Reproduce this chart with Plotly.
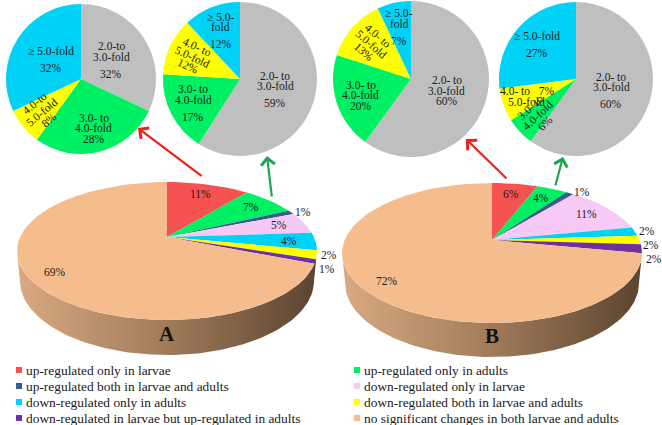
import math
import plotly.graph_objects as go

W, H = 662, 425

# ---------------- data ----------------
categories = [
    "up-regulated only in larvae",
    "up-regulated only in adults",
    "up-regulated both in larvae and adults",
    "down-regulated only in larvae",
    "down-regulated only in adults",
    "down-regulated both in larvae and adults",
    "down-regulated in larvae but up-regulated in adults",
    "no significant changes in both larvae and adults",
]
values_A = [11, 7, 1, 5, 4, 2, 1, 69]
values_B = [6, 4, 1, 11, 2, 2, 2, 72]

fold_classes = ["2.0- to 3.0-fold", "3.0- to 4.0-fold", "4.0- to 5.0-fold", "≥ 5.0-fold"]
fold_A_larvae = [32, 28, 8, 32]
fold_A_adults = [59, 17, 12, 12]
fold_B_larvae = [60, 20, 13, 7]
fold_B_adults = [60, 6, 7, 27]

text_A_larvae = ["2.0-to<br>3.0-fold", "3.0- to<br>4.0-fold", "4.0-to<br>5.0-fold", "≥ 5.0-fold"]
text_A_adults = ["2.0- to<br>3.0-fold", "3.0- to<br>4.0-fold", "4.0- to<br>5.0-fold", "≥ 5.0-<br>fold"]
text_B_larvae = ["2.0- to<br>3.0-fold", "3.0- to<br>4.0-fold", "4.0- to<br>5.0-fold", "≥ 5.0-<br>fold"]
text_B_adults = ["2.0- to<br>3.0-fold", "3.0- to<br>4.0-fold", "4.0- to<br>5.0-fold", "≥ 5.0-fold"]

# ---------------- styles ----------------
cat_colors = ["#f65252", "#00f064", "#355d8d", "#f7c9f7", "#00d2f7", "#ffff00", "#7030a0", "#f5bd8e"]
fold_colors = ["#bfbfbf", "#00f064", "#ffff00", "#00d2f7"]
# per-slice label styling: (radial orientation, inline percentage, gap before percentage)
style_A_larvae = [(False, False, True), (False, False, False), (True, False, False), (False, False, True)]
style_A_adults = [(False, False, True), (False, False, True), (True, False, False), (False, False, True)]
style_B_larvae = [(False, False, False), (False, False, False), (True, False, False), (False, False, True)]
style_B_adults = [(False, False, True), (True, False, False), (False, True, False), (False, False, True)]

FONT = "Liberation Serif"
TXT = "#1a1a1a"
PIE_FS = 11.5
LINE = 10.8
GAP = 6

fig = go.Figure()
annotations = []


def ray_t(theta, a, b, off):
    dy = -b * math.cos(theta)
    B = -2 * off * dy / (b * b)
    C = off * off / (b * b) - 1
    return (-B + math.sqrt(B * B - 4 * C)) / 2


def main_pie(values, cx, cy, a, b, off, cy2, a2, b2, name):
    n = 120
    xs, ys = [], []
    for i in range(n + 1):
        th = math.pi / 2 + math.pi * i / n
        xs.append(cx + a * math.sin(th)); ys.append(cy - b * math.cos(th))
    for i in range(n + 1):
        th = 3 * math.pi / 2 - math.pi * i / n
        xs.append(cx + a2 * math.sin(th)); ys.append(cy2 - b2 * math.cos(th))
    fig.add_trace(go.Scatter(
        x=xs, y=ys, mode="lines", fill="toself", line=dict(width=0),
        fillcolor="#a07a58",
        fillgradient=dict(type="horizontal",
                          colorscale=[[0, "#d8aa84"], [0.5, "#a17b59"], [1, "#5a4430"]]),
        hoverinfo="skip", showlegend=False))
    apx, apy = cx, cy - off
    total = sum(values)
    cum = 0
    outside = []
    for v, col in zip(values, cat_colors):
        th0 = 2 * math.pi * cum / total
        th1 = 2 * math.pi * (cum + v) / total
        steps = max(4, int(90 * v / total) + 2)
        px, py = [apx], [apy]
        for k in range(steps + 1):
            th = th0 + (th1 - th0) * k / steps
            t = ray_t(th, a, b, off)
            px.append(apx + t * a * math.sin(th)); py.append(apy - t * b * math.cos(th))
        px.append(apx); py.append(apy)
        fig.add_trace(go.Scatter(x=px, y=py, mode="lines", fill="toself",
                                 fillcolor=col, line=dict(width=0),
                                 hoverinfo="skip", showlegend=False))
        thm = (th0 + th1) / 2
        t = ray_t(thm, a, b, off)
        ex, ey = a * t * math.sin(thm), -b * t * math.cos(thm)
        if v <= 2:
            outside.append([apx + 1.0 * ex + 2, apy + 1.02 * ey, f"{v}%"])
        else:
            f = 0.82
            annotations.append(dict(x=apx + f * ex, y=apy + f * ey, text=f"{v}%",
                                    showarrow=False, xref="x", yref="y",
                                    font=dict(family=FONT, size=11.5, color=TXT)))
        cum += v
    outside.sort(key=lambda o: o[1])
    for i in range(1, len(outside)):
        if outside[i][1] - outside[i - 1][1] < 14:
            outside[i][1] = outside[i - 1][1] + 14
    for ox, oy, tx in outside:
        annotations.append(dict(x=ox, y=oy, text=tx, showarrow=False, xref="x", yref="y",
                                xanchor="left", font=dict(family=FONT, size=11.5, color=TXT)))
    annotations.append(dict(x=cx, y=cy2 + b2 * 0.72, text=f"<b>{name}</b>", showarrow=False,
                            xref="x", yref="y", font=dict(family=FONT, size=21, color="#111")))


main_pie(values_A, 167, 251, 150, 69, 14, 281, 147, 74, "A")
main_pie(values_B, 492, 253, 150, 70, 13, 283, 147, 74, "B")


def add_block(x, y, lines, offsets, ang):
    # place each text line separately for tight line spacing
    rad = math.radians(ang)
    dxv, dyv = -math.sin(rad), math.cos(rad)
    mid = (offsets[0] + offsets[-1]) / 2
    for ln, o in zip(lines, offsets):
        d = o - mid
        annotations.append(dict(x=x + d * dxv, y=y + d * dyv, text=ln, showarrow=False,
                                xref="x", yref="y", textangle=ang,
                                font=dict(family=FONT, size=PIE_FS, color=TXT)))


def small_pie(values, texts, styles, cx, cy, r):
    fig.add_trace(go.Pie(
        values=values, labels=fold_classes, sort=False, direction="clockwise", rotation=0,
        marker=dict(colors=fold_colors, line=dict(width=0)), textinfo="none",
        hoverinfo="skip", showlegend=False,
        domain=dict(x=[(cx - r) / W, (cx + r) / W], y=[1 - (cy + r) / H, 1 - (cy - r) / H])))
    total = sum(values)
    cum = 0
    for v, tx, (rad, inl, gap) in zip(values, texts, styles):
        thm = 2 * math.pi * (cum + v / 2) / total
        f = 0.48 if v >= 30 else 0.68
        x = cx + f * r * math.sin(thm)
        y = cy - f * r * math.cos(thm)
        ang = 0
        if rad:
            deg = math.degrees(thm)
            ang = deg - 90 if deg < 180 else deg - 270
        lines = tx.split("<br>")
        if inl:
            lines[0] = f"{lines[0]}   {v}%"
        else:
            lines.append(f"{v}%")
        offsets = [i * LINE for i in range(len(lines))]
        if gap and not inl:
            offsets[-1] += GAP
        add_block(x, y, lines, offsets, ang)
        cum += v


small_pie(fold_A_larvae, text_A_larvae, style_A_larvae, 81, 79, 75)
small_pie(fold_A_adults, text_A_adults, style_A_adults, 240, 79, 77)
small_pie(fold_B_larvae, text_B_larvae, style_B_larvae, 411, 79, 78)
small_pie(fold_B_adults, text_B_adults, style_B_adults, 576, 79, 77)

# arrows
for (x0, y0, x1, y1, c) in [(203, 177, 138, 128, "#e8231c"), (272, 198, 267, 156, "#1ea552"),
                            (508, 180, 466, 139, "#e8231c"), (555, 187, 563, 157, "#1ea552")]:
    annotations.append(dict(x=x1, y=y1, ax=x0, ay=y0, xref="x", yref="y", axref="x", ayref="y",
                            showarrow=True, arrowhead=4, arrowsize=1.2, arrowwidth=2.2,
                            arrowcolor=c, text=""))

# legend
LX0, LDX, LY0, LDY = 19, 338, 370, 16
lx = [LX0 + (i % 2) * LDX for i in range(len(categories))]
ly = [LY0 + (i // 2) * LDY for i in range(len(categories))]
fig.add_trace(go.Scatter(x=lx, y=ly, mode="markers",
                         marker=dict(symbol="square", size=6, color=cat_colors),
                         hoverinfo="skip", showlegend=False))
for x, y, c in zip(lx, ly, categories):
    annotations.append(dict(x=x + 5, y=y, text=c, showarrow=False, xref="x", yref="y",
                            xanchor="left", font=dict(family=FONT, size=13.4, color=TXT)))

fig.update_layout(
    width=W, height=H, margin=dict(l=0, r=0, t=0, b=0),
    paper_bgcolor="white", plot_bgcolor="white",
    xaxis=dict(range=[0, W], visible=False, fixedrange=True),
    yaxis=dict(range=[H, 0], visible=False, fixedrange=True),
    annotations=annotations, showlegend=False,
)
fig.write_html("out.html", config={"displayModeBar": False},
               post_script="document.body.style.margin='0';document.body.style.overflow='hidden';")
